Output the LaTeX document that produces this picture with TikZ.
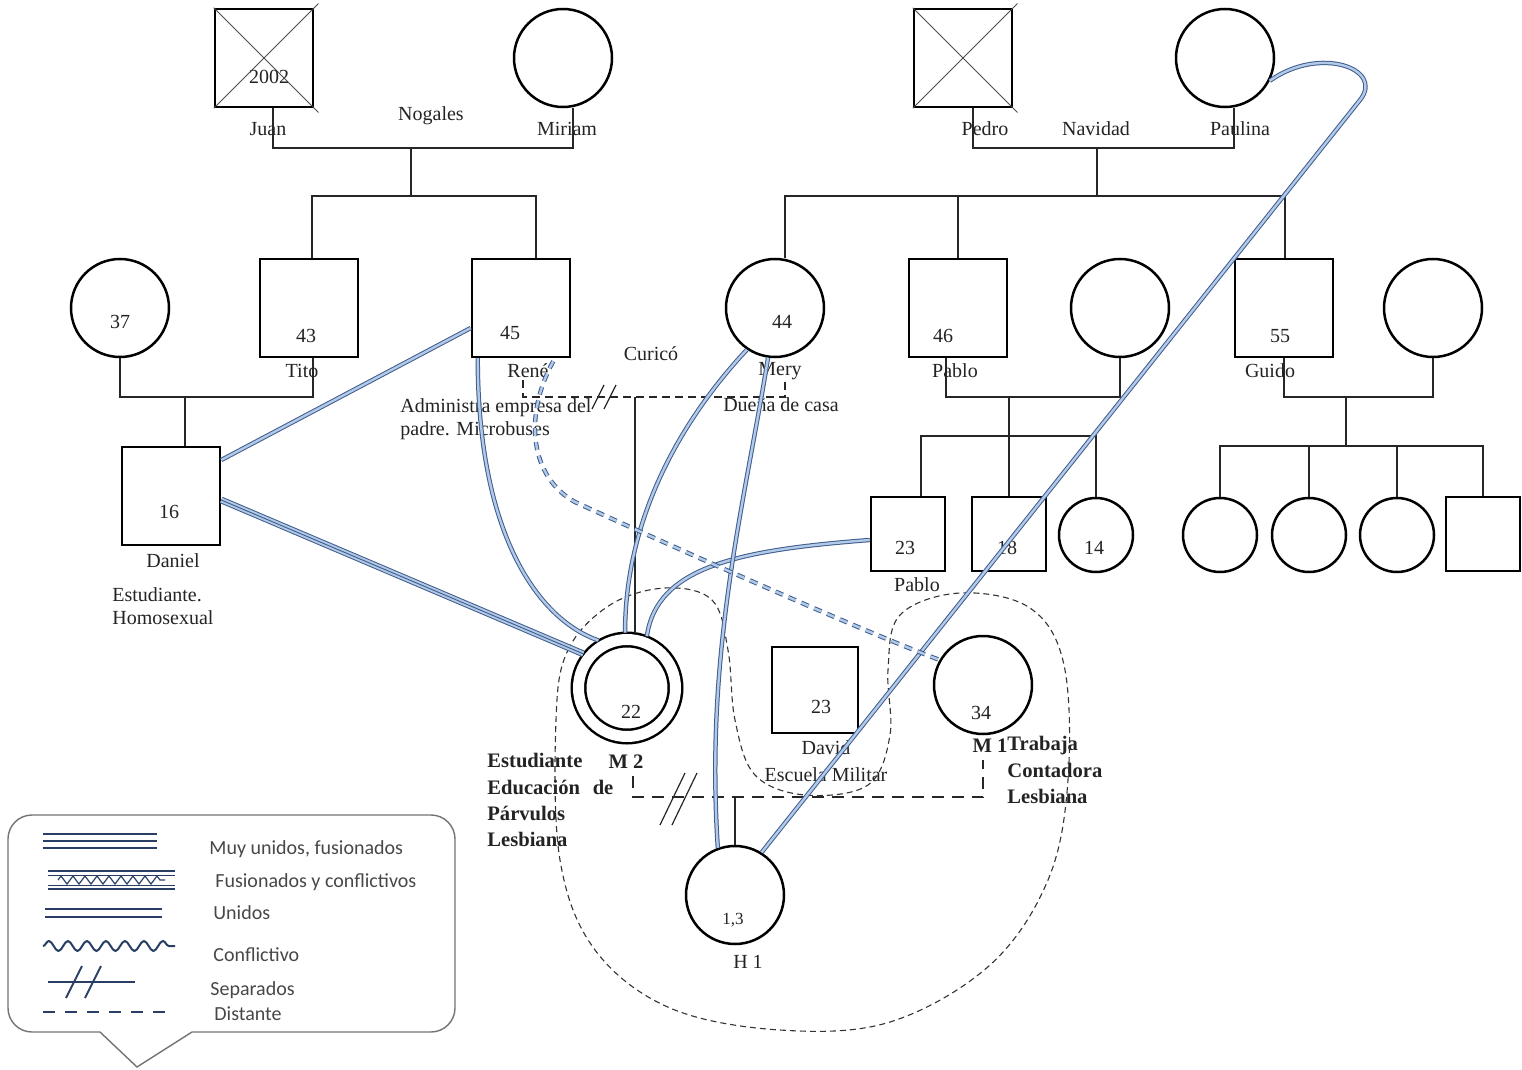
\documentclass[tikz,border=0pt]{standalone}
\usepackage{fontspec}
\setmainfont{Liberation Serif}
\newfontfamily\legendfont{Carlito}
\usepackage{xcolor}
\usepackage{tikz}
\usetikzlibrary{calc,decorations.pathmorphing}
\definecolor{bondblue}{RGB}{62,92,140}
\definecolor{bondlight}{RGB}{178,202,232}
\definecolor{legendblue}{RGB}{40,62,100}
\definecolor{inkgray}{RGB}{35,35,35}
\tikzset{
  male/.style={draw=black, line width=1.25pt, minimum size=49pt, inner sep=0pt},
  female/.style={male, circle},
  kid/.style={minimum size=37pt},
  famline/.style={line width=0.6pt, draw=black!85},
  crossline/.style={line width=0.5pt, draw=black!70, shorten >=-3pt},
  distline/.style={famline, dash pattern=on 4pt off 2.5pt},
  distthick/.style={line width=1.2pt, draw=black!85, dash pattern=on 6pt off 4pt},
  sepmark/.style={line width=0.6pt, draw=black!85},
  unido/.style={draw=bondblue, double=bondlight, double distance=1.2pt,
    line width=0.5pt},
  muyunido/.style={preaction={draw=bondblue, line width=3.4pt},
    preaction={draw=bondlight, line width=2.4pt},
    draw=bondblue, line width=0.45pt},
  distante/.style={unido, dash pattern=on 4pt off 3pt},
  groupline/.style={line width=0.55pt, draw=black!80,
    dash pattern=on 3pt off 2pt},
  lbl/.style={font=\fontsize{10}{11.5}\selectfont, text=inkgray,
    inner sep=0pt},
  note/.style={lbl, align=left, anchor=north west},
  boldnote/.style={font=\fontsize{10.3}{13.2}\selectfont\bfseries,
    text=inkgray, inner sep=0pt, align=left, anchor=north west},
  legendtext/.style={font=\legendfont\fontsize{10}{12}\selectfont,
    text=black!72, anchor=west, inner sep=0pt},
  legendline/.style={line width=1pt, draw=legendblue}
}

\begin{document}
\begin{tikzpicture}[x=0.5pt,y=-0.5pt]
  \useasboundingbox (0,0) rectangle (1522,1070);

  \node[male] (juan) at (264,58) {};
  \node[female] (miriam) at (563,58) {};
  \node[male] (pedro) at (963,58) {};
  \node[female] (paulina) at (1225,58) {};

  \node[female] (titowife) at (120,308) {};
  \node[male] (tito) at (309,308) {};
  \node[male] (rene) at (521,308) {};
  \node[female] (mery) at (775,308) {};
  \node[male] (pablo) at (958,308) {};
  \node[female] (pablowife) at (1120,308) {};
  \node[male] (guido) at (1284,308) {};
  \node[female] (guidowife) at (1433,308) {};

  \node[male] (daniel) at (171,496) {};
  \node[male, kid] (pablojr) at (908,534) {};
  \node[male, kid] (hijo18) at (1009,534) {};
  \node[female, kid] (hija14) at (1096,535) {};
  \node[female, kid] (gk1) at (1220,535) {};
  \node[female, kid] (gk2) at (1309,535) {};
  \node[female, kid] (gk3) at (1397,535) {};
  \node[male, kid] (gk4) at (1483,534) {};

  \node[female, double, double distance=5.5pt, minimum size=48.5pt,
    outer sep=3.5pt] (paciente) at (627,688) {};
  \node[male, minimum size=43pt] (david) at (815,690) {};
  \node[female] (pareja) at (983,685) {};
  \node[female] (h1) at (735,895) {};

  \draw[crossline] (juan.north west) -- (juan.south east);
  \draw[crossline] (juan.south west) -- (juan.north east);
  \draw[crossline] (pedro.north west) -- (pedro.south east);
  \draw[crossline] (pedro.south west) -- (pedro.north east);

  \node[lbl] (juanage) at (269,77) {2002};
  \node[lbl] (titowifeage) at (120,322) {37};
  \node[lbl] (titoage) at (306,336) {43};
  \node[lbl] (reneage) at (510,333) {45};
  \node[lbl] (meryage) at (782,322) {44};
  \node[lbl] (pabloage) at (943,336) {46};
  \node[lbl] (guidoage) at (1280,336) {55};
  \node[lbl] (danielage) at (169,512) {16};
  \node[lbl] (pablojrage) at (905,548) {23};
  \node[lbl] (hijo18age) at (1007,548) {18};
  \node[lbl] (hija14age) at (1094,548) {14};
  \node[lbl] (pacienteage) at (631,712) {22};
  \node[lbl] (davidage) at (821,707) {23};
  \node[lbl] (parejaage) at (981,713) {34};
  \node[lbl, font=\fontsize{8.5}{10}\selectfont] (h1age) at (733,920) {1,3};

  \node[lbl] (juanname) at (268,129) {Juan};
  \node[lbl] (nogalesname) at (431,116) {Nogales};
  \node[lbl] (miriamname) at (567,129) {Miriam};
  \node[lbl] (pedroname) at (985,129) {Pedro};
  \node[lbl] (navidadname) at (1096,129) {Navidad};
  \node[lbl] (paulinaname) at (1240,129) {Paulina};
  \node[lbl] (titoname) at (302,371) {Tito};
  \node[lbl] (renename) at (528,371) {René};
  \node[lbl] (curiconame) at (651,354) {Curicó};
  \node[lbl] (meryname) at (780,371) {Mery};
  \node[lbl] (merynote) at (781,405) {Dueña de casa};
  \node[lbl] (pabloname) at (955,371) {Pablo};
  \node[lbl] (guidoname) at (1270,371) {Guido};
  \node[lbl] (danielname) at (173,561) {Daniel};
  \node[lbl] (pablojrname) at (917,585) {Pablo};
  \node[lbl] (davidname) at (826,748) {David};
  \node[lbl] (davidnote) at (826,775) {Escuela Militar};
  \node[lbl] (h1name) at (748,962) {H 1};
  \node[lbl, font=\fontsize{10.3}{12}\selectfont\bfseries] (pacientename)
    at (626,762) {M 2};
  \node[lbl, font=\fontsize{10.3}{12}\selectfont\bfseries] (parejaname)
    at (990,746) {M 1};
  \node[note] (renenote) at (400,398)
    {Administra empresa del\\padre. Microbuses};
  \node[note] (danielnote) at (112,587) {Estudiante.\\Homosexual};
  \node[boldnote, text width=63pt] (pacientenote) at (487,753)
    {Estudiante\\Educación\hfill de\\Párvulos\\Lesbiana};
  \node[boldnote] (parejanote) at (1007,736)
    {Trabaja\\Contadora\\Lesbiana};

  \coordinate (nogales) at (411,148);
  \coordinate (nogkids) at (411,196);
  \draw[famline] ($(juan.south)+(9,0)$) |- (nogales)
    -| ($(miriam.south)+(10,0)$);
  \draw[famline] (nogales) -- (nogkids);
  \draw[famline] ($(tito.north)+(3,0)$) |- (nogkids)
    -| ($(rene.north)+(15,0)$);

  \coordinate (navidad) at (1097,148);
  \coordinate (navkids) at (1097,196);
  \draw[famline] ($(pedro.south)+(10,0)$) |- (navidad)
    -| ($(paulina.south)+(9,0)$);
  \draw[famline] (navidad) -- (navkids);
  \draw[famline] ($(mery.north)+(10,0)$) |- (navkids)
    -| ($(guido.north)+(1,0)$);
  \draw[famline] (pablo.north) -- (pablo.north |- navkids);

  \coordinate (titomid) at (185,397);
  \draw[famline] (titowife.south) |- (titomid) -| ($(tito.south)+(4,0)$);
  \draw[famline] (titomid) -- (titomid |- daniel.north);

  \coordinate (curico) at (635,397);
  \draw[distline] ($(rene.south)+(2,22)$) |- (curico)
    -| ($(mery.south)+(10,22)$);
  \draw[famline] (curico) -- (curico |- paciente.north);
  \draw[sepmark] ($(curico)+(-43,12)$) -- ++(12,-24);
  \draw[sepmark] ($(curico)+(-31,12)$) -- ++(12,-24);

  \coordinate (pablomid) at (1009,397);
  \coordinate (pablokids) at (1009,436);
  \draw[famline] ($(pablo.south)+(-12,0)$) |- (pablomid) -| (pablowife.south);
  \draw[famline] (pablomid) -- (pablokids);
  \draw[famline] ($(pablojr.north)+(13,0)$) |- (pablokids) -| (hija14.north);
  \draw[famline] (pablokids) -- (hijo18.north);

  \coordinate (guidomid) at (1346,397);
  \coordinate (guidokids) at (1346,446);
  \draw[famline] (guido.south) |- (guidomid) -| (guidowife.south);
  \draw[famline] (guidomid) -- (guidokids);
  \draw[famline] (gk1.north) |- (guidokids) -| (gk4.north);
  \draw[famline] (gk2.north) -- (gk2.north |- guidokids);
  \draw[famline] (gk3.north) -- (gk3.north |- guidokids);

  \coordinate (parvulos) at (735,797);
  \draw[distthick] ($(paciente.south)+(6,32)$) |- (parvulos)
    -| ($(pareja.south)+(0,25)$);
  \draw[famline] (parvulos) -- (h1.north);
  \draw[sepmark] ($(parvulos)+(-75,28)$) -- ++(25,-52);
  \draw[sepmark] ($(parvulos)+(-63,28)$) -- ++(25,-52);

  \draw[groupline] plot[smooth cycle, tension=0.6] coordinates {
    (556,720) (568,650) (610,605) (665,588) (712,600) (728,650)
    (735,720) (755,775) (805,795) (868,785) (890,735) (888,670)
    (900,615) (960,593) (1030,608) (1064,665) (1068,780) (1048,880)
    (990,965) (890,1022) (780,1030) (670,1008) (595,950) (560,860)};

  \draw[unido] ($(daniel.east)+(0,-36)$) -- ($(rene.west)+(0,20)$);
  \draw[muyunido] ($(daniel.east)+(0,4)$) -- (paciente.142);
  \draw[unido] ($(rene.south west)+(7,0)$) .. controls +(0,180)
    and +(-58,-20) .. (paciente.121);
  \draw[unido] (mery.236) .. controls +(-70,75) and +(0,-110)
    .. (paciente.92);
  \draw[unido] ($(pablojr.west)+(0,6)$) .. controls +(-130,10)
    and +(10,-70) .. (paciente.69);
  \draw[unido] (mery.262) .. controls +(-23,144) and +(-13,-198) .. (h1.110);
  \draw[unido] (paulina.333) .. controls (1320,45) and (1385,69)
    .. (1360,100) -- (h1.58);
  \draw[distante] ($(rene.south east)+(-18,3)$) .. controls +(-30,55)
    and +(-45,-25) .. (575,502) .. controls +(105,48) and +(-80,-30)
    .. (pareja.150);

  \draw[line width=0.7pt, draw=black!55, rounded corners=12pt]
    (192,1032) -- (455,1032) -- (455,815) -- (8,815) -- (8,1032)
    -- (100,1032);
  \draw[line width=0.7pt, draw=black!55]
    (100,1032) -- (137,1067) -- (192,1032);

  \foreach \y in {834,841,848}
    \draw[legendline] (43,\y) -- (157,\y);
  \draw[legendline] (48,871) -- (175,871);
  \draw[legendline] (48,889) -- (175,889);
  \draw[legendline, line width=0.5pt] (48,875) -- (175,875);
  \draw[legendline, line width=0.5pt] (48,885) -- (175,885);
  \draw[legendline, line width=0.6pt, decorate,
    decoration={zigzag, segment length=6pt, amplitude=2pt}]
    (58,880) -- (165,880);
  \draw[legendline] (45,909) -- (162,909);
  \draw[legendline] (45,917) -- (162,917);
  \draw[legendline, decorate,
    decoration={snake, segment length=9.5pt, amplitude=2.5pt}]
    (43,946) -- (175,946);
  \draw[legendline] (48,982) -- (135,982);
  \draw[legendline] (66,998) -- (82,966);
  \draw[legendline] (85,998) -- (101,966);
  \draw[legendline, dash pattern=on 6pt off 5pt] (43,1012) -- (172,1012);

  \node[legendtext] (legmuy) at (209,849) {Muy unidos, fusionados};
  \node[legendtext] (legfus) at (215,882) {Fusionados y conflictivos};
  \node[legendtext] (leguni) at (213,913) {Unidos};
  \node[legendtext] (legcon) at (213,955) {Conflictivo};
  \node[legendtext] (legsep) at (210,990) {Separados};
  \node[legendtext] (legdis) at (214,1014) {Distante};
\end{tikzpicture}
\end{document}
